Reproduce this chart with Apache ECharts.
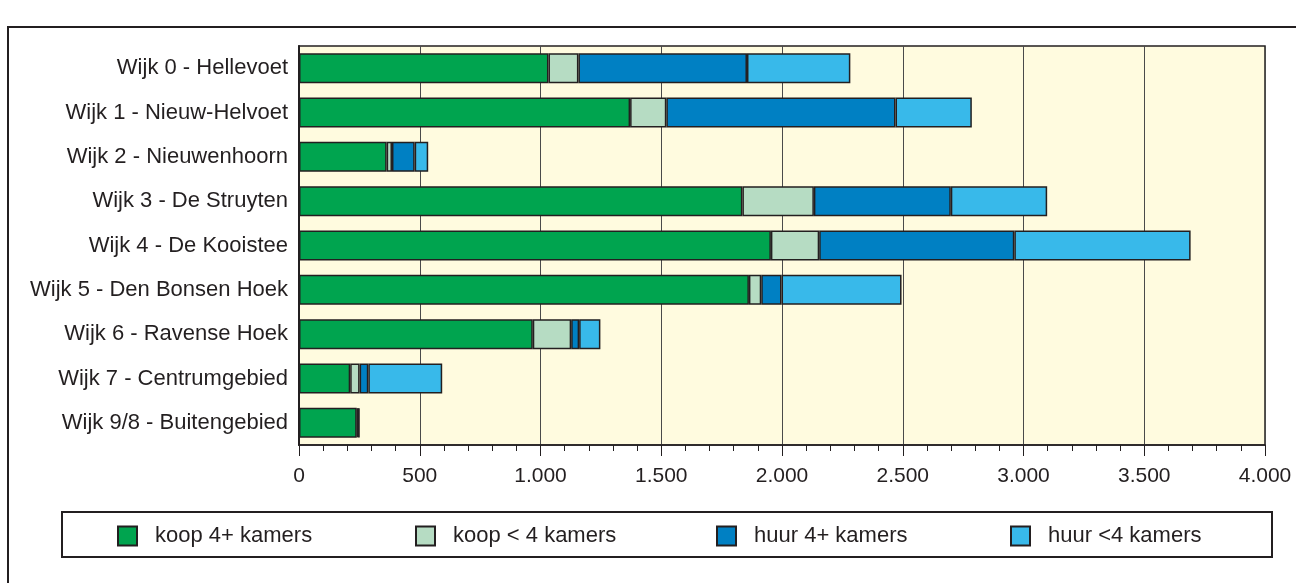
<!DOCTYPE html>
<html><head><meta charset="utf-8">
<script src="https://cdn.jsdelivr.net/npm/echarts@6/dist/echarts.min.js"></script>
<style>html,body{margin:0;padding:0;background:#fff}#c{width:1296px;height:583px}</style>
</head><body><div id="c"></div>
<script>
const categories = ['Wijk 0 - Hellevoet','Wijk 1 - Nieuw-Helvoet','Wijk 2 - Nieuwenhoorn','Wijk 3 - De Struyten','Wijk 4 - De Kooistee','Wijk 5 - Den Bonsen Hoek','Wijk 6 - Ravense Hoek','Wijk 7 - Centrumgebied','Wijk 9/8 - Buitengebied'];
const koop4plus = [1033, 1371, 363, 1836, 1954, 1863, 968, 212, 239];
const koopLt4 =   [124, 150, 22, 296, 200, 51, 159, 39, 4];
const huur4plus = [698, 949, 94, 567, 808, 84, 33, 36, 4];
const huurLt4 =   [428, 316, 56, 399, 730, 497, 88, 306, 3];
const seriesNames = ['koop 4+ kamers','koop < 4 kamers','huur 4+ kamers','huur <4 kamers'];
const seriesColors = ['#00A44F','#B6DCC3','#0080C3','#38B9EA'];
const tickLabels = {0:'0',500:'500',1000:'1.000',1500:'1.500',2000:'2.000',2500:'2.500',3000:'3.000',3500:'3.500',4000:'4.000'};

const dataSets = [koop4plus, koopLt4, huur4plus, huurLt4];
const ink = '#231F20';
const font = '"Liberation Sans", Arial, sans-serif';
const chart = echarts.init(document.getElementById('c'));
const legendLefts = [117, 415, 716, 1010];
chart.setOption({
  animation: false,
  textStyle: {fontFamily: font},
  graphic: [
    {type:'rect', shape:{x:8,y:27,width:1300,height:600}, style:{fill:'none', stroke:ink, lineWidth:2}, z:-1},
    {type:'rect', shape:{x:62,y:512,width:1210,height:45}, style:{fill:'#fff', stroke:ink, lineWidth:2}, z:-1}
  ],
  grid: {left:299, right:31, top:46, bottom:138, show:true, backgroundColor:'#FFFBDF', borderColor:ink, borderWidth:1.5},
  legend: seriesNames.map((n,i)=>({
    data:[n], left:legendLefts[i], top:525, padding:0, icon:'rect', itemWidth:19, itemHeight:19, itemGap:0,
    textStyle:{fontSize:22, color:ink, fontFamily:font, padding:[0,0,0,13]}
  })),
  xAxis: {
    type:'value', min:0, max:4000, interval:500,
    axisLine:{show:true, lineStyle:{color:ink, width:1.5}},
    axisTick:{show:true, length:11, lineStyle:{color:ink, width:1}},
    minorTick:{show:true, splitNumber:5, length:6, lineStyle:{color:ink, width:1}},
    splitLine:{show:true, lineStyle:{color:'#4a4a4a', width:1}},
    axisLabel:{fontSize:21, color:ink, margin:21, formatter:v=>tickLabels[v]!==undefined?tickLabels[v]:''}
  },
  yAxis: {
    type:'category', data:categories, inverse:true,
    axisLine:{show:true, lineStyle:{color:ink, width:2}},
    axisTick:{show:false},
    axisLabel:{fontSize:22, color:ink, margin:11}
  },
  series: dataSets.map((d,i)=>({
    name:seriesNames[i], type:'bar', stack:'total', data:d, barWidth:30,
    itemStyle:{color:seriesColors[i], borderColor:ink, borderWidth:1.5}
  }))
});
</script></body></html>
